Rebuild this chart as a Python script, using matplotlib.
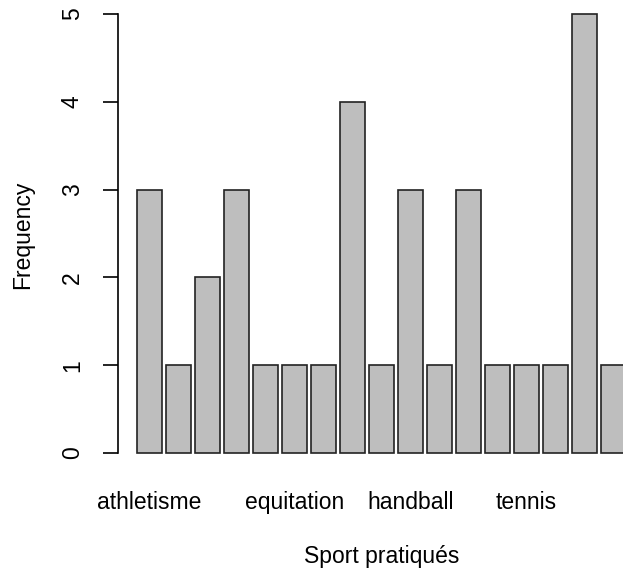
import matplotlib
matplotlib.use("Agg")
import matplotlib.pyplot as plt

plt.rcParams['font.family'] = ['Liberation Sans', 'DejaVu Sans']

# table of sports (only the labels R managed to draw are visible)
sports = ['athletisme', '', '', '', '', 'equitation', '', '', '', 'handball',
          '', '', '', 'tennis', '', '', '']
counts = [3, 1, 2, 3, 1, 1, 1, 4, 1, 3, 1, 3, 1, 1, 1, 5, 1]

# R barplot positions: width 1, space 0.2
pos = [0.7 + 1.2 * i for i in range(len(counts))]

W, H = 623, 574
fig = plt.figure(figsize=(W / 100, H / 100), dpi=100)
ax = fig.add_axes([118 / W, 1 - 453 / H, (W - 118) / W, (453 - 14) / H])

bars = ax.bar(pos, counts, width=1.0, color='#bebebe', edgecolor='#222222', linewidth=1.2)
for b in bars:
    b.set_clip_on(False)
ax.set_xlim(-0.603, 20.29)
ax.set_ylim(0, 5)

for s in ['top', 'right', 'bottom']:
    ax.spines[s].set_visible(False)
ax.spines['left'].set_linewidth(1.2)

ax.set_yticks([0, 1, 2, 3, 4, 5])
ax.tick_params(axis='y', length=10.5, width=1.2, pad=14, labelsize=16.5)
for lab in ax.get_yticklabels():
    lab.set_rotation(90)
    lab.set_va('center')

ax.set_xticks(pos)
ax.set_xticklabels(sports)
ax.tick_params(axis='x', length=0, pad=40, labelsize=16.5)
for lab in ax.get_xticklabels():
    lab.set_va('baseline')

fig.text(23 / W, 1 - 235 / H, 'Frequency', rotation=90, ha='center', va='center', fontsize=16.5)
fig.text(382 / W, 1 - 557 / H, 'Sport pratiqués', ha='center', va='center', fontsize=16.5)

fig.savefig('out.png', dpi=100)
